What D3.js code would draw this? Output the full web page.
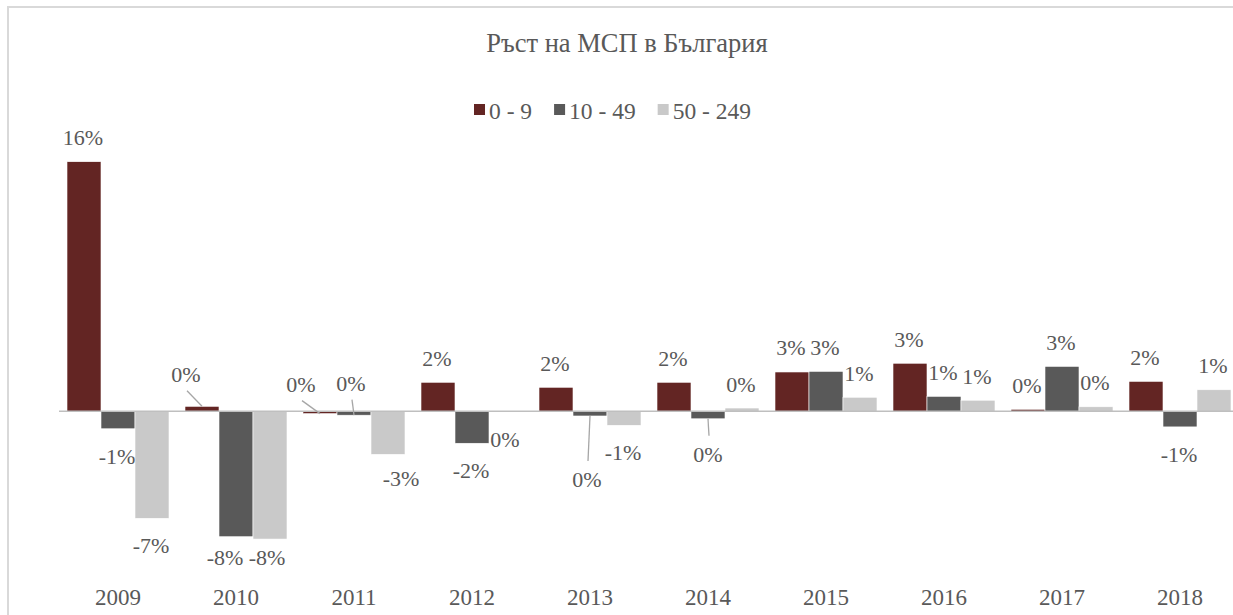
<!DOCTYPE html>
<html lang="bg">
<head>
<meta charset="utf-8">
<script src="https://d3js.org/d3.v7.min.js"></script>
<style>
  body { margin: 0; background: #fff; }
  text { font-family: "Liberation Serif", "Times New Roman", serif; fill: #595959; }
</style>
</head>
<body>
<svg width="1233" height="615"></svg>
<script>
// data (growth, %)
var years = ["2009", "2010", "2011", "2012", "2013", "2014", "2015", "2016", "2017", "2018"];
var seriesNames = ["0 - 9", "10 - 49", "50 - 249"];
var micro  = [16.0, 0.32, -0.15, 1.86, 1.54, 1.86, 2.52, 3.08, 0.13, 1.92];
var small  = [-1.12, -8.04, -0.25, -2.05, -0.30, -0.48, 2.56, 0.96, 2.88, -1.00];
var medium = [-6.86, -8.19, -2.76, -0.02, -0.90, 0.21, 0.90, 0.71, 0.29, 1.38];
var colors = ["#632523", "#595959", "#c9c9c9"];

// labels that were dragged by hand in the original chart: [dx, dy, leader line]
var labelNudge = {
  "2010|0": [-15, -8, true],
  "2010|1": [-10, -7, false],
  "2010|2": [-2, -9, false],
  "2011|0": [-18, -57, true],
  "2011|1": [-2, -59.5, true],
  "2011|2": [14, -3, false],
  "2013|1": [-2, 36, true],
  "2014|1": [1, 8, true]
};

var svg = d3.select("svg");

// chart frame
svg.append("rect")
  .attr("x", 8).attr("y", 7)
  .attr("width", 1245).attr("height", 630)
  .attr("fill", "#fff")
  .attr("stroke", "#d9d9d9")
  .attr("stroke-width", 2);

var x = d3.scaleBand().domain(years).range([59, 1239]).paddingInner(16 / 118).paddingOuter(8 / 118);
var xs = d3.scaleBand().domain(d3.range(3)).range([0, x.bandwidth()]);
var y = d3.scaleLinear().domain([-10, 20]).range([567.3, 99.3]);

var allSeries = [micro, small, medium];
var rows = [];
years.forEach(function(yr, i) {
  allSeries.forEach(function(s, k) {
    rows.push({ year: yr, k: k, v: s[i] });
  });
});

// bars
svg.append("g").selectAll("rect")
  .data(rows)
  .join("rect")
    .attr("x", function(d) { return x(d.year) + xs(d.k); })
    .attr("width", xs.bandwidth())
    .attr("y", function(d) { return Math.min(y(d.v), y(0)); })
    .attr("height", function(d) { return Math.abs(y(d.v) - y(0)); })
    .attr("fill", function(d) { return colors[d.k]; })
    .attr("stroke", "#fff")
    .attr("stroke-width", 0.6);

// zero line
svg.append("line")
  .attr("x1", 59).attr("x2", 1239)
  .attr("y1", y(0)).attr("y2", y(0))
  .attr("stroke", "#bfbfbf")
  .attr("stroke-width", 1.5);

// data labels
function fmt(v) { return Math.round(v) + "%"; }

rows.forEach(function(d) {
  var cx = x(d.year) + xs(d.k) + xs.bandwidth() / 2;
  var by = y(d.v);
  var lx = cx - 1;
  var ly = d.v >= 0 ? by - 16.5 : by + 35;
  var n = labelNudge[d.year + "|" + d.k];
  if (n) {
    lx += n[0];
    ly += n[1];
    if (n[2]) {
      var sy = ly < by ? ly + 9 : ly - 26;
      svg.append("line")
        .attr("x1", lx + 1).attr("y1", sy)
        .attr("x2", cx).attr("y2", by)
        .attr("stroke", "#a6a6a6")
        .attr("stroke-width", 1.3);
    }
  }
  svg.append("text")
    .attr("x", lx).attr("y", ly)
    .attr("text-anchor", "middle")
    .style("font-size", "22px")
    .text(fmt(d.v));
});

// category axis (labels at the bottom)
var axis = svg.append("g")
  .attr("transform", "translate(0,580)")
  .call(d3.axisBottom(x).tickSize(0).tickPadding(9));
axis.select(".domain").remove();
axis.selectAll("text")
  .style("font-size", "23px")
  .style("font-family", "'Liberation Serif', serif")
  .attr("fill", "#595959");

// title
svg.append("text")
  .attr("x", 627).attr("y", 52)
  .attr("text-anchor", "middle")
  .style("font-size", "26.5px")
  .text("Ръст на МСП в България");

// legend
var legend = svg.append("g");
var lxPos = 0;
seriesNames.forEach(function(name, k) {
  var g = legend.append("g").attr("transform", "translate(" + lxPos + ",0)");
  g.append("rect").attr("x", 0).attr("y", -15).attr("width", 11).attr("height", 11).attr("fill", colors[k]);
  var t = g.append("text").attr("x", 15).attr("y", 0).style("font-size", "23.5px").text(name);
  lxPos += 15 + t.node().getComputedTextLength() + 22;
});
var legendW = lxPos - 22;
legend.attr("transform", "translate(" + (612.5 - legendW / 2) + ",119)");
</script>
</body>
</html>
